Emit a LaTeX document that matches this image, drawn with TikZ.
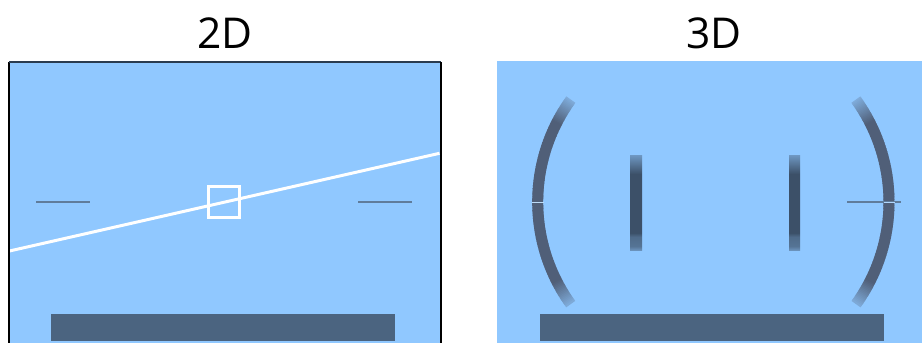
\documentclass[tikz,border=0pt]{standalone}
\usepackage{fontspec}
\setmainfont{Open Sans}
\definecolor{sky}{HTML}{90C8FF}
\definecolor{slate}{HTML}{4B6480}
\definecolor{arcdark}{HTML}{505F78}
\definecolor{bardark}{HTML}{3C5068}
\definecolor{tick}{HTML}{5F7C9B}
\definecolor{gapline}{HTML}{BCDCF8}
\definecolor{topedge}{HTML}{2A3C50}
\pgfdeclareverticalshading{barfade}{100bp}{
 color(0bp)=(sky!45!bardark);
 color(25bp)=(sky!55!bardark);
 color(27bp)=(sky!30!bardark);
 color(32bp)=(sky!22!bardark);
 color(34bp)=(bardark);
 color(65bp)=(bardark);
 color(75bp)=(sky!60!bardark);
 color(100bp)=(sky!60!bardark)}
\tikzset{
 title/.style={font=\fontsize{42.5pt}{48pt}\selectfont,text=black,inner sep=0pt,anchor=center},
 panel/.style={fill=sky,draw=none},
 tickline/.style={draw=tick,line width=1.3pt},
 whiteline/.style={draw=white,line width=3pt}
}
% arc with faded ends: #1 centre x, #2 side (-1 left, 1 right)
\newcommand{\fadedarc}[2]{%
 \foreach \a in {-35.9,-35.4,...,35.4}{%
  \pgfmathsetmacro{\d}{abs(\a+0.25)}%
  \pgfmathsetmacro{\m}{\d<27?100:max(25,100-(\d-27)*8.4)}%
  \pgfmathsetmacro{\b}{\a+0.7}%
  \draw[line width=11pt,color=arcdark!\m!sky]
    ({#1+#2*174.6*cos(\a)},{202+174.6*sin(\a)}) -- ({#1+#2*174.6*cos(\b)},{202+174.6*sin(\b)});
 }}
\begin{document}
\begin{tikzpicture}[x=1pt,y=-1pt]
\useasboundingbox (0,0) rectangle (922,343);
\node[title] (t2) at (225,33) {2D};
\node[title] (t3) at (714,33) {3D};
% left panel
\path[panel] (9,62) rectangle (441,343);
\node[fill=slate,inner sep=0pt,minimum width=344pt,minimum height=27pt] (base2) at (223,327.5) {};
\coordinate (horL) at (9.5,251);
\coordinate (horR) at (439.5,153.3);
\draw[whiteline] (horL) -- (horR);
\node[draw=white,line width=3pt,inner sep=0pt,minimum width=31pt,minimum height=31pt,outer sep=0pt] (sq) at (224,201.9) {};
\coordinate (a1) at (36,202); \coordinate (a2) at (90,202);
\coordinate (b1) at (358,202); \coordinate (b2) at (412,202);
\draw[tickline] (a1) -- (a2);
\draw[tickline] (b1) -- (b2);
\draw[black,line width=1.2pt] (9,343) -- (9,62);
\draw[topedge,line width=1.2pt] (9,62) -- (441,62);
\draw[black,line width=1.2pt] (441,62) -- (441,343);
% right panel
\path[panel] (497,61) rectangle (922,343);
\node[fill=slate,inner sep=0pt,minimum width=344pt,minimum height=27pt] (base3) at (712,327.5) {};
\fadedarc{712.3}{-1}
\fadedarc{714.4}{1}
\node[shading=barfade,inner sep=0pt,minimum width=12pt,minimum height=95pt] (b3l) at (636,202.5) {};
\node[shading=barfade,inner sep=0pt,minimum width=11pt,minimum height=95pt] (b3r) at (794.5,202.5) {};
\coordinate (c1) at (532,202); \coordinate (c2) at (543.5,202);
\draw[gapline,line width=1pt] (c1) -- (c2);
\coordinate (d1) at (847,202); \coordinate (d2) at (901,202);
\draw[tickline] (d1) -- (d2);
\coordinate (e1) at (884,202); \coordinate (e2) at (894.5,202);
\draw[sky!70!white,line width=1pt] (e1) -- (e2);
\end{tikzpicture}
\end{document}
